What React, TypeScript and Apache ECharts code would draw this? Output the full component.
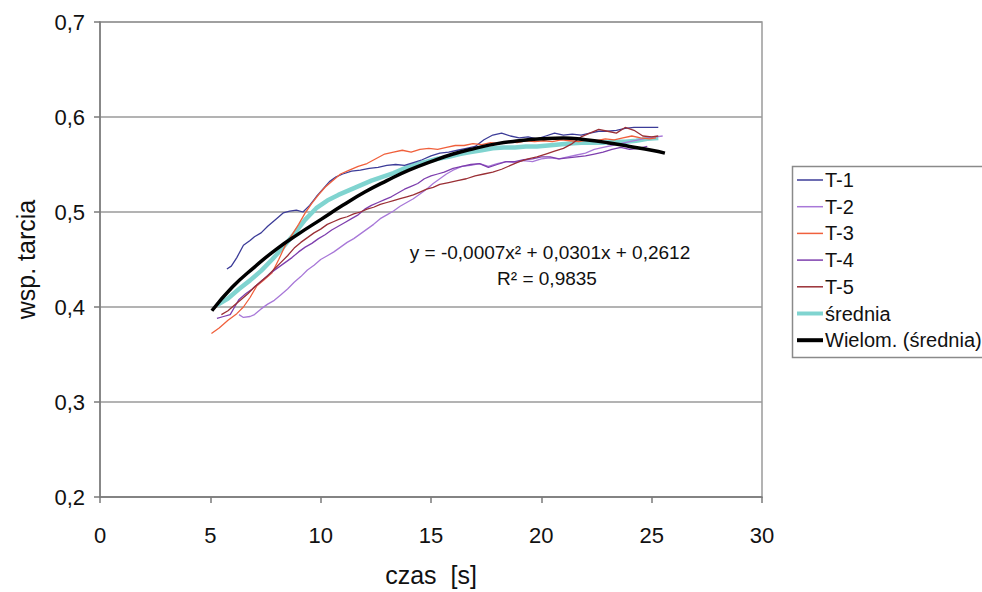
import React, { useEffect, useRef } from "react";
import * as echarts from "echarts";

const FONT = "'Liberation Sans', Arial, sans-serif";

const xTicks = [0, 5, 10, 15, 20, 25, 30];
const yTicks = [0.2, 0.3, 0.4, 0.5, 0.6, 0.7];

const seriesNames = ["T-1", "T-2", "T-3", "T-4", "T-5", "średnia", "Wielom. (średnia)"];
const seriesColors = ["#3c3c98", "#a878d8", "#f0603c", "#7e3fae", "#9a2f35", "#80d4d0", "#000000"];

const t1: number[][] = [[5.75,0.440],[5.95,0.443],[6.2,0.452],[6.5,0.465],[6.8,0.470],[7.0,0.474],[7.3,0.478],[7.6,0.485],[8.0,0.493],[8.3,0.499],[8.6,0.501],[8.9,0.502],[9.2,0.500],[9.5,0.507],[9.8,0.516],[10.1,0.524],[10.4,0.532],[10.7,0.537],[11.0,0.540],[11.4,0.543],[11.8,0.544],[12.2,0.546],[12.6,0.547],[13.0,0.549],[13.4,0.550],[13.8,0.549],[14.2,0.552],[14.6,0.555],[15.0,0.559],[15.4,0.562],[15.8,0.563],[16.2,0.565],[16.6,0.567],[17.0,0.569],[17.4,0.576],[17.8,0.581],[18.2,0.583],[18.6,0.580],[19.0,0.578],[19.4,0.579],[19.8,0.577],[20.2,0.580],[20.6,0.583],[21.0,0.581],[21.4,0.582],[21.8,0.581],[22.2,0.583],[22.6,0.585],[23.0,0.585],[23.4,0.586],[23.8,0.588],[24.2,0.589],[24.6,0.589],[25.0,0.589],[25.3,0.589]];

const t2: number[][] = [[6.3,0.392],[6.5,0.389],[6.8,0.390],[7.0,0.392],[7.3,0.398],[7.6,0.403],[7.9,0.407],[8.2,0.413],[8.5,0.419],[8.8,0.426],[9.1,0.432],[9.4,0.439],[9.7,0.444],[10.0,0.450],[10.3,0.454],[10.6,0.458],[10.9,0.463],[11.2,0.468],[11.5,0.472],[11.8,0.477],[12.1,0.482],[12.4,0.487],[12.7,0.493],[13.0,0.497],[13.3,0.501],[13.6,0.506],[13.9,0.510],[14.2,0.514],[14.5,0.519],[14.8,0.524],[15.1,0.530],[15.4,0.535],[15.7,0.540],[16.0,0.544],[16.4,0.548],[16.8,0.549],[17.2,0.551],[17.6,0.548],[18.0,0.551],[18.4,0.553],[18.8,0.552],[19.2,0.554],[19.6,0.553],[20.0,0.556],[20.4,0.557],[20.8,0.556],[21.2,0.558],[21.6,0.560],[22.0,0.562],[22.4,0.566],[22.8,0.568],[23.2,0.570],[23.6,0.572],[24.0,0.574],[24.4,0.576],[24.8,0.578],[25.2,0.579],[25.5,0.580]];

const t3: number[][] = [[5.05,0.372],[5.4,0.378],[5.8,0.386],[6.2,0.393],[6.5,0.400],[6.8,0.410],[7.1,0.422],[7.4,0.428],[7.8,0.436],[8.1,0.450],[8.4,0.465],[8.7,0.476],[9.0,0.487],[9.3,0.499],[9.6,0.509],[9.9,0.518],[10.2,0.526],[10.5,0.532],[10.9,0.540],[11.3,0.544],[11.7,0.548],[12.1,0.551],[12.5,0.556],[12.9,0.561],[13.3,0.563],[13.7,0.565],[14.1,0.563],[14.5,0.566],[14.9,0.567],[15.3,0.566],[15.7,0.568],[16.1,0.570],[16.5,0.570],[16.9,0.572],[17.3,0.571],[17.7,0.573],[18.1,0.572],[18.5,0.574],[18.9,0.573],[19.3,0.575],[19.7,0.574],[20.1,0.575],[20.5,0.574],[20.9,0.576],[21.3,0.575],[21.7,0.574],[22.1,0.576],[22.5,0.575],[22.9,0.577],[23.3,0.576],[23.7,0.578],[24.1,0.580],[24.5,0.578],[24.9,0.577],[25.2,0.578]];

const t4: number[][] = [[5.3,0.388],[5.6,0.390],[5.9,0.392],[6.1,0.400],[6.3,0.408],[6.6,0.414],[6.9,0.419],[7.2,0.425],[7.5,0.431],[7.8,0.437],[8.1,0.442],[8.4,0.447],[8.7,0.452],[9.0,0.458],[9.3,0.463],[9.6,0.467],[9.9,0.472],[10.2,0.476],[10.5,0.481],[10.8,0.485],[11.1,0.489],[11.4,0.493],[11.7,0.497],[12.0,0.503],[12.3,0.507],[12.6,0.510],[12.9,0.513],[13.2,0.516],[13.5,0.520],[13.8,0.524],[14.1,0.527],[14.4,0.530],[14.7,0.535],[15.0,0.538],[15.3,0.540],[15.6,0.542],[16.0,0.546],[16.4,0.548],[16.8,0.550],[17.2,0.551],[17.6,0.547],[18.0,0.550],[18.4,0.553],[18.8,0.553],[19.2,0.555],[19.6,0.556],[20.0,0.558],[20.4,0.558],[20.8,0.556],[21.2,0.557],[21.6,0.558],[22.0,0.559],[22.4,0.561],[22.8,0.563],[23.2,0.566],[23.6,0.568],[24.0,0.566],[24.4,0.567],[24.8,0.569]];

const t5: number[][] = [[5.5,0.392],[5.8,0.396],[6.1,0.402],[6.4,0.408],[6.7,0.414],[7.0,0.421],[7.3,0.427],[7.6,0.433],[7.9,0.440],[8.2,0.447],[8.5,0.454],[8.8,0.462],[9.1,0.468],[9.4,0.473],[9.7,0.478],[10.0,0.482],[10.3,0.487],[10.6,0.490],[10.9,0.493],[11.2,0.495],[11.5,0.498],[11.8,0.500],[12.1,0.503],[12.4,0.505],[12.7,0.508],[13.0,0.510],[13.3,0.512],[13.6,0.514],[13.9,0.516],[14.2,0.518],[14.5,0.521],[14.8,0.524],[15.1,0.526],[15.4,0.529],[15.8,0.531],[16.2,0.533],[16.6,0.535],[17.0,0.538],[17.4,0.540],[17.8,0.542],[18.2,0.545],[18.6,0.549],[19.0,0.553],[19.4,0.556],[19.8,0.558],[20.2,0.561],[20.6,0.564],[21.0,0.567],[21.4,0.572],[21.8,0.579],[22.2,0.583],[22.6,0.587],[23.0,0.585],[23.4,0.583],[23.8,0.589],[24.2,0.586],[24.6,0.580],[25.0,0.579],[25.3,0.580]];

const srednia: number[][] = [[5.3,0.402],[5.8,0.409],[6.3,0.419],[6.8,0.428],[7.3,0.438],[7.8,0.450],[8.3,0.463],[8.8,0.477],[9.3,0.492],[9.8,0.504],[10.3,0.512],[10.8,0.518],[11.3,0.523],[11.8,0.528],[12.3,0.533],[12.8,0.537],[13.3,0.541],[13.8,0.546],[14.3,0.550],[14.8,0.553],[15.3,0.556],[15.8,0.558],[16.3,0.561],[16.8,0.563],[17.3,0.565],[17.8,0.567],[18.3,0.568],[18.8,0.568],[19.3,0.569],[19.8,0.569],[20.3,0.570],[20.8,0.571],[21.3,0.572],[21.8,0.573],[22.3,0.573],[22.8,0.573],[23.3,0.574],[23.8,0.574],[24.3,0.575],[24.8,0.577],[25.3,0.578]];

const wielomian: number[][] = [[5.07,0.396],[6,0.421],[7,0.442],[8,0.461],[9,0.477],[10,0.492],[11,0.507],[12,0.521],[13,0.533],[14,0.544],[15,0.553],[16,0.561],[17,0.567],[18,0.572],[19,0.575],[20,0.577],[21,0.578],[22,0.576],[23,0.573],[24,0.569],[25,0.565],[25.6,0.562]];

const equationLines = ["y = -0,0007x² + 0,0301x + 0,2612", "R² = 0,9835"];

const seriesData = [t1, t2, t3, t4, t5, srednia, wielomian];
const seriesWidths = [1.3, 1.3, 1.3, 1.3, 1.3, 4.5, 3.5];
const legendWidths = [1.5, 1.5, 1.5, 1.5, 1.5, 4, 4];

export default function App() {
  const ref = useRef<HTMLDivElement>(null);
  useEffect(() => {
    if (!ref.current) return;
    const chart = echarts.init(ref.current, undefined, { renderer: "svg" });
    const fmt = (v: number) => String(Math.round(v * 10) / 10).replace(".", ",");
    const legendTop = 180;
    const legendStep = 26.7;
    const legendItems: any[] = [];
    seriesNames.forEach((name, i) => {
      const y = legendTop + i * legendStep;
      legendItems.push({
        type: "line", silent: true,
        shape: { x1: 797, y1: y, x2: 823, y2: y },
        style: { stroke: seriesColors[i], lineWidth: legendWidths[i] },
      });
      legendItems.push({
        type: "text", silent: true, x: 825, y: y,
        style: { text: name, fontSize: 20, fill: "#111", fontFamily: FONT, verticalAlign: "middle", align: "left" },
      });
    });
    chart.setOption({
      animation: false,
      backgroundColor: "#ffffff",
      textStyle: { fontFamily: FONT },
      grid: {
        left: 100, right: 220, top: 22, bottom: 92,
        show: true, borderColor: "#9a9a9a", borderWidth: 1.5,
      },
      xAxis: {
        type: "value", min: xTicks[0], max: xTicks[xTicks.length - 1], interval: 5,
        name: "czas  [s]", nameLocation: "middle", nameGap: 65,
        nameTextStyle: { fontSize: 25, color: "#111", fontFamily: FONT },
        axisLine: { lineStyle: { color: "#7a7a7a", width: 1.5 } },
        axisTick: { show: true, inside: false, length: 6, lineStyle: { color: "#7a7a7a", width: 1.5 } },
        axisLabel: { fontSize: 22, color: "#111", margin: 27, fontFamily: FONT },
        splitLine: { show: false },
      },
      yAxis: {
        type: "value", min: yTicks[0], max: yTicks[yTicks.length - 1], interval: 0.1,
        name: "wsp. tarcia", nameLocation: "middle", nameGap: 62,
        nameTextStyle: { fontSize: 25, color: "#111", fontFamily: FONT },
        axisLine: { show: true, lineStyle: { color: "#7a7a7a", width: 1.5 } },
        axisTick: { show: true, inside: false, length: 6, lineStyle: { color: "#7a7a7a", width: 1.5 } },
        axisLabel: { fontSize: 22, color: "#111", margin: 15, formatter: fmt, fontFamily: FONT },
        splitLine: { show: true, lineStyle: { color: "#9a9a9a", width: 1.5 } },
      },
      graphic: [
        {
          type: "rect", left: 790, top: 164, silent: true,
          shape: { width: 200, height: 191 },
          style: { fill: "none", stroke: "#8a8a8a", lineWidth: 1.5 },
        },
        ...legendItems,
        {
          type: "text", x: 550, y: 252, silent: true,
          style: { text: equationLines[0], fontSize: 19, fill: "#111", fontFamily: FONT, align: "center", verticalAlign: "middle" },
        },
        {
          type: "text", x: 547, y: 278, silent: true,
          style: { text: equationLines[1], fontSize: 19, fill: "#111", fontFamily: FONT, align: "center", verticalAlign: "middle" },
        },
      ],
      series: seriesNames.map((name, i) => ({
        name, type: "line", data: seriesData[i], showSymbol: false, symbol: "none",
        smooth: i === 6, z: i === 6 ? 5 : (i === 5 ? 2 : 3),
        lineStyle: { color: seriesColors[i], width: seriesWidths[i] },
        itemStyle: { color: seriesColors[i] },
      })),
    });
    return () => chart.dispose();
  }, []);
  return <div ref={ref} style={{ position: "fixed", left: 0, top: 0, width: 982, height: 592 }} />;
}
